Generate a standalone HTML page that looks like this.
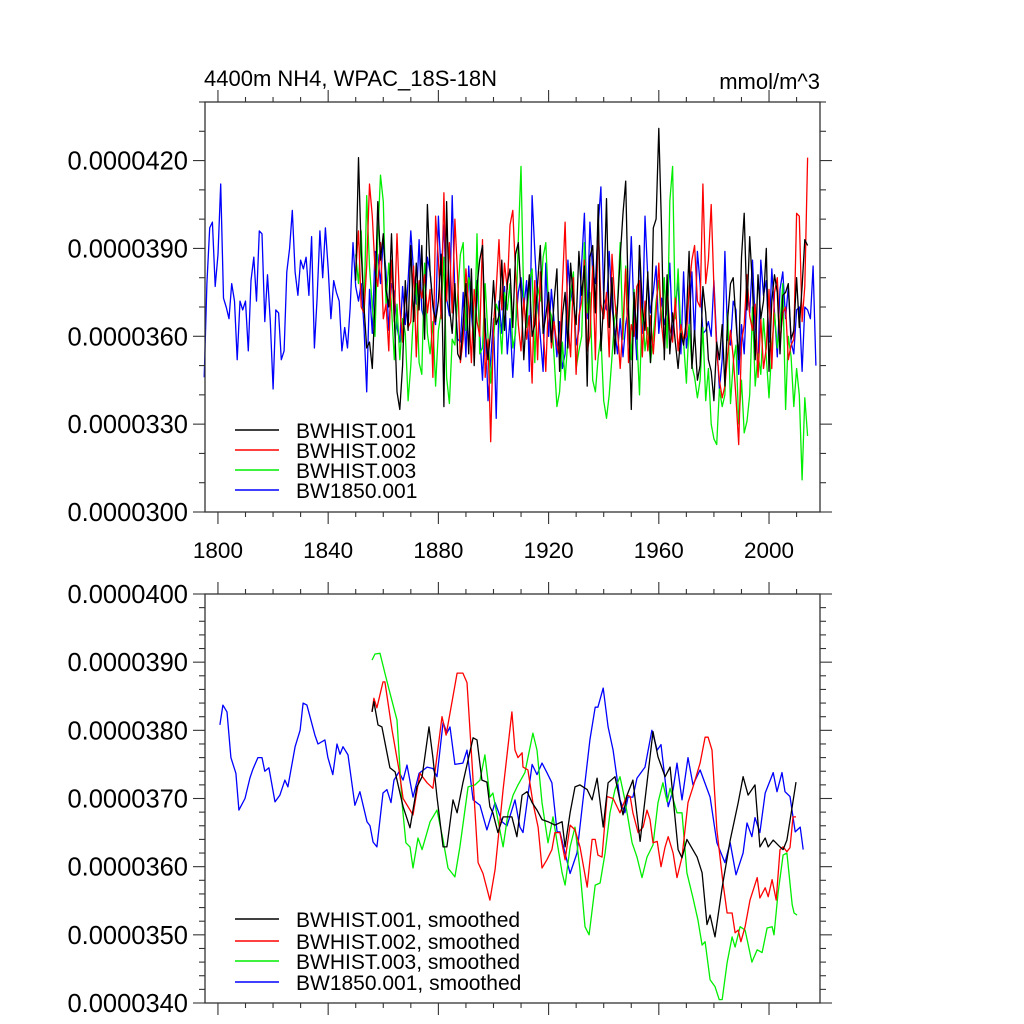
<!DOCTYPE html>
<html><head><meta charset="utf-8"><title>4400m NH4 WPAC</title>
<style>
html,body{margin:0;padding:0;background:#fff;}
svg{display:block;font-family:"Liberation Sans",sans-serif;}
</style></head>
<body>
<svg id="chart" width="1024" height="1024" viewBox="0 0 1024 1024" xmlns="http://www.w3.org/2000/svg">
<rect x="0" y="0" width="1024" height="1024" fill="#fff"/>
<text x="204" y="86" font-size="22">4400m NH4, WPAC_18S-18N</text>
<text x="820" y="89" font-size="22" text-anchor="end">mmol/m^3</text>
<g id="top"></g>
<g id="bot"></g>
</svg>
<script>
// ---------- data (values in units of 1e-6 mmol/m^3) ----------
const blueStart = 1795;
const blueRaw = [34.6,37.8,39.7,39.9,37.7,38.8,41.2,37.3,37.0,36.6,
37.8,37.2,35.2,37.2,36.9,37.2,35.5,37.9,38.7,37.2,
39.6,39.5,36.5,38.1,36.5,34.2,36.9,36.8,35.2,35.5,
38.2,39.0,40.3,38.2,37.4,38.6,38.3,38.7,37.4,39.4,
35.6,37.3,39.6,38.0,39.7,38.3,36.6,37.9,37.5,37.2,
35.5,36.3,35.6,37.0,39.2,37.7,37.2,37.8,36.3,34.1,
37.6,36.1,38.9,38.8,37.8,39.3,38.2,36.2,37.8,37.5,
36.3,35.8,37.7,36.4,37.9,39.6,38.2,37.1,39.3,36.9,
36.5,38.7,38.2,37.0,36.4,40.1,38.1,39.8,37.3,36.7,
40.8,37.4,35.9,35.8,37.5,35.3,38.4,36.8,35.6,37.9,
36.1,34.5,36.6,33.8,35.2,36.6,33.2,37.2,36.1,37.7,
35.4,36.6,34.6,36.3,37.5,38.0,37.0,37.9,34.8,40.8,
38.9,37.2,36.0,34.8,38.5,36.0,37.6,36.5,35.3,36.5,
34.9,35.4,38.6,37.2,37.8,35.7,36.2,38.5,40.2,36.6,
39.9,38.2,37.8,39.8,41.1,37.3,36.9,38.9,37.0,36.2,
35.4,36.6,35.3,36.4,37.0,39.4,36.8,35.2,39.1,36.1,
40.1,38.0,36.8,37.5,38.4,36.1,37.3,36.4,36.9,38.5,
36.0,37.0,37.9,35.4,38.2,35.6,36.4,38.2,35.9,38.9,
37.8,36.1,36.2,36.5,36.0,37.9,35.8,34.2,35.2,38.9,
35.9,35.7,37.2,36.9,34.7,36.4,35.4,37.6,36.8,38.6,
36.5,34.8,38.6,37.4,37.9,35.8,38.3,36.8,35.3,37.6,
38.2,36.6,37.7,35.8,35.4,36.9,37.0,34.8,37.0,36.9,
36.6,38.4,35.0];
const histStart = 1850;
const blackRaw = [37.9,42.1,38.9,37.0,35.6,35.8,34.9,37.2,40.6,38.6,
39.5,37.6,37.0,39.5,36.7,34.1,33.5,35.0,37.9,36.2,
39.1,36.5,38.5,36.9,39.1,35.9,40.5,38.2,37.1,36.5,
37.2,38.8,33.6,40.6,37.0,36.1,37.8,35.4,35.2,36.5,
37.8,35.4,38.3,35.0,37.7,38.6,39.1,36.2,35.2,36.2,
37.9,36.4,36.7,38.6,36.2,37.8,38.3,36.3,38.8,39.2,
37.5,35.2,36.9,38.1,36.0,36.4,37.8,39.1,36.1,36.7,
37.5,35.8,37.2,38.3,34.8,36.7,37.5,35.6,38.5,37.2,
36.4,38.9,37.4,38.4,34.3,38.7,39.1,36.8,40.5,35.5,
37.2,40.7,36.3,38.0,35.4,37.0,38.7,40.2,41.3,36.9,
33.5,37.5,35.9,39.1,37.0,36.2,38.2,35.1,39.7,40.0,
43.1,39.6,35.2,38.1,35.4,36.8,35.8,34.9,36.1,35.7,
36.6,38.9,34.9,36.2,34.5,35.0,37.7,36.8,35.2,34.8,
33.8,35.8,35.2,36.4,34.3,36.6,37.8,38.0,36.5,35.2,
38.7,40.2,36.9,39.4,37.7,35.2,38.1,36.6,37.2,39.0,
34.8,37.2,38.1,37.5,35.4,37.4,37.5,37.8,35.9,36.2,
38.0,36.3,37.7,39.3,39.1];
const redRaw = [38.2,39.6,37.0,36.8,38.4,41.2,40.1,38.3,37.7,39.2,
36.6,37.1,35.5,38.6,36.5,39.5,37.0,35.8,37.7,36.3,
36.5,38.4,35.3,37.9,37.3,38.1,36.8,37.6,34.6,40.1,
38.6,36.6,40.9,37.2,39.2,36.8,40.0,38.0,35.1,35.9,
38.3,37.0,35.1,37.6,36.5,36.0,39.3,34.6,35.9,32.4,
36.4,37.6,39.3,36.9,38.5,37.6,39.8,40.3,38.2,36.4,
35.5,37.3,35.9,36.7,34.4,37.9,35.2,38.2,36.3,34.8,
37.4,35.6,36.5,35.7,35.3,37.7,39.9,36.5,35.3,38.0,
34.7,36.7,37.2,38.6,35.5,36.0,38.4,35.2,39.8,37.1,
36.6,37.5,35.3,38.8,37.3,36.2,34.9,36.4,38.3,35.1,
36.4,36.0,37.7,37.9,35.3,37.2,35.5,36.7,35.4,36.8,
38.5,36.4,35.5,37.6,36.3,35.8,37.3,35.5,36.4,35.9,
36.0,37.6,38.6,39.1,37.2,37.0,41.2,37.8,38.6,40.5,
37.7,35.5,34.5,33.9,34.3,35.4,36.2,35.3,33.9,32.3,
35.8,36.4,38.1,36.7,36.2,37.1,34.6,36.6,34.9,35.6,
37.6,34.9,37.5,38.0,35.8,36.8,37.0,35.2,35.7,35.9,
40.2,40.1,36.5,37.7,42.1];
const greenRaw = [38.8,37.8,39.6,36.8,40.8,38.4,37.0,36.0,39.4,41.5,
40.6,37.1,38.5,37.0,35.2,37.1,35.2,36.6,36.1,33.8,
35.0,36.9,37.8,35.1,34.7,38.5,36.1,35.4,36.5,34.3,
36.2,36.8,38.7,34.6,33.7,35.9,35.7,37.4,38.8,39.2,
36.2,38.0,37.6,35.5,39.5,35.4,35.6,37.8,36.0,34.4,
35.9,37.1,36.8,35.4,37.5,36.9,37.8,35.6,36.1,39.3,
41.8,37.1,36.3,37.9,38.3,35.1,37.7,37.2,38.7,39.2,
37.0,36.7,35.3,33.6,34.1,35.8,34.5,35.9,37.4,38.2,
34.9,35.5,36.0,39.2,36.8,37.5,34.5,34.1,35.3,36.0,
33.8,33.2,34.0,35.3,36.6,37.1,39.2,35.9,38.4,37.0,
35.2,37.6,36.0,34.0,37.1,35.5,36.3,35.1,36.0,37.2,
37.9,36.3,38.0,35.6,40.6,41.8,36.6,38.3,36.1,35.8,
34.4,36.4,35.0,34.6,33.9,34.5,36.3,33.8,34.9,33.0,
32.5,32.3,34.2,33.6,34.0,36.8,33.7,35.1,35.7,33.0,
34.5,32.7,33.1,34.0,37.0,34.3,35.4,34.7,36.6,35.3,
33.9,35.6,36.8,35.6,36.4,37.8,33.5,36.0,35.3,33.6,
34.9,34.0,31.1,33.9,32.6];

// smoothed series: years and values
const blueSmYears = [1800.7,1801.8,1803.3,1804.7,1806.5,1807.6,1809.8,1811.6,1812.7,1814.5,1816,1817,1818.5,1820.7,1822.5,1824.3,1825.4,1828,1829.8,1830.9,1832.3,1835.2,1836.3,1838.8,1839.9,1841.7,1843.2,1844.3,1845.4,1847.2,1849.7,1851.5,1854.1,1855.2,1856.3,1857.7,1859.9,1861.3,1862.8,1863.9,1865.7,1867.2,1868.6,1870.8,1873,1875.9,1878,1879.5,1881.7,1883.1,1884.2,1886,1888.9,1890.4,1892.6,1895.1,1897.6,1900.6,1903.1,1904.9,1907.8,1909.6,1910.7,1914,1915.8,1917.6,1919.4,1921.2,1923.1,1924.1,1927.8,1930.3,1932.5,1935,1936.9,1937.9,1939.8,1941.6,1943.4,1945.9,1947.7,1948.8,1950.6,1952.1,1955,1957.5,1959.4,1960.8,1962.3,1963.4,1965.2,1966.6,1968.4,1970.6,1972.4,1975,1978.6,1981.1,1984,1985.9,1988,1990.6,1992,1993.8,1994.9,1996.7,1998.6,2001.5,2002.9,2004.7,2005.8,2007.6,2009.5,2011.3,2012.4];
const blueSmVals = [38.08,38.37,38.27,37.6,37.37,36.83,37.0,37.3,37.43,37.6,37.6,37.4,37.45,36.95,37.05,37.27,37.17,37.76,38.0,38.4,38.37,37.93,37.8,37.86,37.6,37.35,37.8,37.65,37.76,37.64,36.9,37.1,36.66,36.6,36.36,36.29,37.08,37.13,36.94,37.27,37.39,37.27,37.49,37.02,37.37,37.46,37.44,37.32,38.12,37.96,38.05,37.5,37.52,37.71,36.98,36.9,36.54,36.94,36.66,36.6,36.98,36.58,36.5,37.5,37.35,37.52,37.38,37.23,36.51,36.51,35.9,36.2,36.98,37.86,38.34,38.34,38.62,38.05,37.71,36.98,36.79,37.02,37.02,37.3,37.46,38.0,37.71,37.79,37.27,36.88,37.13,37.52,36.98,37.6,37.2,37.42,37.02,36.35,36.06,36.35,35.88,36.2,36.64,36.44,36.72,36.5,37.08,37.38,37.1,37.38,37.1,37.03,36.51,36.58,36.25];
const redSmYears = [1855.9,1856.6,1857.7,1859.9,1860.6,1863.2,1865.7,1867.2,1870.8,1873.3,1875.9,1878,1881.3,1882.8,1886.8,1888.9,1890.4,1892.2,1894.4,1896.2,1898.7,1900.6,1903.5,1906.7,1907.8,1908.9,1910.4,1910.7,1912.5,1914.3,1916.2,1917.6,1919.4,1921.2,1922.3,1924.1,1926,1927.8,1929.6,1931.4,1934,1935.8,1936.9,1937.9,1939.4,1941.2,1943.4,1945.9,1948.5,1949.6,1950.6,1952.5,1954.3,1955.7,1956.8,1957.9,1959.4,1960.8,1962.3,1963.4,1965.2,1966.6,1968.4,1970.6,1972.4,1975,1976.8,1977.9,1979.3,1981.1,1983.3,1984.8,1986.6,1987.7,1988.8,1989.8,1991.3,1993.1,1995.7,1996.7,1998.6,1999.7,2001.1,2002.6,2004,2005.1,2006.5,2007.6,2008.7,2009.8];
const redSmVals = [38.27,38.47,38.33,38.71,38.71,38.0,37.42,37.0,36.76,37.37,37.23,37.15,38.2,37.93,38.84,38.84,38.7,37.53,36.06,35.9,35.51,35.96,37.13,38.27,37.71,37.6,37.67,37.46,37.42,36.94,36.58,35.98,36.1,36.25,36.5,36.5,36.1,36.61,36.54,36.29,35.7,36.4,36.4,36.17,36.14,37.03,37.0,36.79,37.05,37.03,36.79,36.5,36.58,36.83,36.69,36.35,36.37,36.0,36.29,36.44,36.2,35.84,36.14,36.94,37.17,37.52,37.9,37.9,37.71,36.54,35.76,35.32,35.32,35.03,35.07,34.9,35.12,35.51,35.84,35.54,35.69,35.56,35.81,35.51,36.25,36.29,36.22,36.28,36.73,36.73];
const blackSmYears = [1855.9,1856.6,1858.1,1859.5,1862.4,1864.3,1867.2,1869.7,1872.2,1874.1,1876.6,1878,1879.5,1881.7,1883.1,1885.3,1886.8,1888.9,1892.6,1894,1895.8,1897.6,1898.7,1899.8,1901.6,1903.5,1906.7,1907.1,1908.5,1910.4,1912.2,1914,1915.8,1917.6,1919.8,1922.3,1924.9,1926,1927.8,1929.6,1931.4,1934,1935.8,1937.6,1939.8,1941.6,1944.1,1947,1948.5,1950.6,1953.2,1955.7,1957.9,1959.7,1962.3,1964.1,1967,1968.4,1970.2,1973.9,1975.7,1977.5,1978.6,1980.4,1983,1985.9,1988.8,1990.6,1992.4,1994.9,1996.7,1998.6,1999.7,2001.5,2004,2005.1,2006.5,2008.4,2009.8];
const blackSmVals = [38.27,38.42,38.08,38.05,37.45,37.39,36.88,36.57,37.17,37.32,38.05,37.6,37.02,36.29,36.29,36.98,36.79,37.23,37.89,37.86,37.27,37.24,36.88,36.79,36.5,36.73,36.73,36.66,36.44,37.05,37.1,36.94,36.83,36.69,36.66,36.61,36.66,36.29,36.79,37.17,37.2,37.13,36.98,37.3,36.58,37.23,37.32,36.76,37.05,37.27,36.37,37.23,37.98,37.61,37.32,37.46,36.25,36.13,36.4,36.14,35.91,35.15,35.29,34.97,35.7,36.39,36.94,37.32,37.05,37.2,36.29,36.42,36.29,36.39,36.29,36.25,36.39,36.88,37.24];
const greenSmYears = [1855.9,1857,1858.8,1860.6,1862.4,1865,1866.8,1868.2,1869.7,1870.8,1872.6,1874.1,1877,1879.5,1881.7,1883.5,1886,1887.8,1890.8,1893.3,1895.1,1896.9,1898.7,1899.8,1901.6,1903.5,1905.3,1907.1,1908.9,1911.4,1914.3,1915.8,1917.6,1919.8,1921.6,1924.9,1926,1927.8,1929.6,1931.4,1933.2,1934.7,1936.9,1938.7,1940.5,1942.3,1944.1,1945.9,1947.7,1950.3,1952.1,1953.9,1955.7,1957.9,1959.7,1961.5,1963,1964.1,1966.6,1968.4,1970.2,1972.4,1974.2,1975.7,1976.8,1978.6,1980.4,1981.9,1983,1984.8,1986.6,1987.7,1989.5,1991.3,1993.8,1995.7,1997.5,1999.3,2001.1,2001.8,2003.3,2005.1,2006.5,2008.4,2009.1,2010.2];
const greenSmVals = [39.03,39.12,39.13,38.84,38.55,38.15,36.94,36.35,36.29,35.98,36.42,36.25,36.66,36.83,36.39,35.98,35.85,36.29,37.17,37.2,37.27,37.64,37.02,37.08,36.69,36.29,36.79,37.05,37.2,37.38,37.96,37.71,36.94,36.35,36.73,35.91,35.73,36.29,36.58,35.95,35.12,35.0,35.73,35.76,36.2,36.79,37.13,37.32,36.98,36.35,36.14,35.84,36.14,36.32,36.94,37.23,36.95,37.15,36.79,36.79,35.91,35.54,35.22,34.85,34.9,34.34,34.24,34.05,34.05,34.59,34.97,34.82,35.12,35.07,34.6,34.78,34.74,35.1,35.12,35.0,35.62,36.17,36.2,35.44,35.32,35.29];

const xTickYears = [1800,1840,1880,1920,1960,2000];
const xTickLabels = ["1800","1840","1880","1920","1960","2000"];
const topYTicks = [30,33,36,39,42];
const topYLabels = ["0.0000300","0.0000330","0.0000360","0.0000390","0.0000420"];
const botYTicks = [34,35,36,37,38,39,40];
const botYLabels = ["0.0000340","0.0000350","0.0000360","0.0000370","0.0000380","0.0000390","0.0000400"];
const topLegend = ["BWHIST.001","BWHIST.002","BWHIST.003","BW1850.001"];
const botLegend = ["BWHIST.001, smoothed","BWHIST.002, smoothed","BWHIST.003, smoothed","BW1850.001, smoothed"];

// ---------- layout ----------
const NS = "http://www.w3.org/2000/svg";
const L = 205, R = 820;
const xMin = 1795.3, xMax = 2018.5;
const xs = y => L + (y - xMin) / (xMax - xMin) * (R - L);
const topP = {top:102, bottom:512, ymin:30, ymax:44, minor:1};
const botP = {top:594, bottom:1003, ymin:34, ymax:40, minor:0.2};
function ys(p, v){ return p.bottom - (v - p.ymin)/(p.ymax - p.ymin)*(p.bottom - p.top); }
function mk(tag, attrs, parent){
  const e = document.createElementNS(NS, tag);
  for (const k in attrs) e.setAttribute(k, attrs[k]);
  parent.appendChild(e); return e;
}
const colors = ["#000000","#ff0000","#00ee00","#0000ff"];

function drawPanel(g, p, yt, yl, legend, legendY, legendFont, series){
  series.forEach((s, i) => {
    let d = "";
    s.years.forEach((yr, j) => { d += (j ? "L" : "M") + xs(yr).toFixed(1) + " " + ys(p, s.vals[j]).toFixed(1); });
    const path = mk("path", {d:d, fill:"none", stroke:s.color, "stroke-width":1.3, "stroke-linejoin":"round"}, g);
    
    
  });
  const box = mk("rect", {x:L, y:p.top, width:R-L, height:p.bottom-p.top, fill:"none", stroke:"#333", "stroke-width":1.3}, g);
  
  
  for (let v = p.ymin; v <= p.ymax + 1e-9; v += p.minor){
    const y = ys(p, v);
    const major = yt.some(t => Math.abs(t - v) < 1e-6);
    const len = major ? 12 : 6;
    mk("line", {x1:L-len, y1:y, x2:L, y2:y, stroke:"#333", "stroke-width":1.1}, g);
    mk("line", {x1:R, y1:y, x2:R+len, y2:y, stroke:"#333", "stroke-width":1.1}, g);
  }
  yt.forEach((v, i) => {
    const t = mk("text", {x:188, y:ys(p, v)+9, "font-size":25.5, "text-anchor":"end"}, g);
    t.textContent = yl[i];
    
    
  });
  for (let yr = 1800; yr <= 2010; yr += 10){
    const x = xs(yr);
    const major = xTickYears.includes(yr);
    const len = major ? 12 : 5;
    mk("line", {x1:x, y1:p.bottom, x2:x, y2:p.bottom+len, stroke:"#333", "stroke-width":1.1}, g);
    mk("line", {x1:x, y1:p.top-len, x2:x, y2:p.top, stroke:"#333", "stroke-width":1.1}, g);
  }
  legend.forEach((name, i) => {
    const y = legendY[i];
    const ln = mk("line", {x1:235, y1:y, x2:279, y2:y, stroke:colors[i], "stroke-width":1.5}, g);
    
    
    const t = mk("text", {x:296, y:y+8, "font-size":legendFont}, g);
    t.textContent = name;
    
    
  });
}
function yearsFrom(start, n){ const a=[]; for(let i=0;i<n;i++) a.push(start+i); return a; }

const topG = document.getElementById("top");
drawPanel(topG, topP, topYTicks, topYLabels, topLegend, [430,450,470,490], 21, [
  {name:"bw1850-001-line", color:colors[3], years:yearsFrom(blueStart, blueRaw.length), vals:blueRaw},
  {name:"bwhist-003-line", color:colors[2], years:yearsFrom(histStart, greenRaw.length), vals:greenRaw},
  {name:"bwhist-002-line", color:colors[1], years:yearsFrom(histStart, redRaw.length), vals:redRaw},
  {name:"bwhist-001-line", color:colors[0], years:yearsFrom(histStart, blackRaw.length), vals:blackRaw}
]);
xTickYears.forEach((yr, i) => {
  const t = mk("text", {x:xs(yr), y:558, "font-size":22.5, "text-anchor":"middle"}, topG);
  t.textContent = xTickLabels[i];
  
  
});
const botG = document.getElementById("bot");
drawPanel(botG, botP, botYTicks, botYLabels, botLegend, [919,941,961,982], 21, [
  {name:"bw1850-001-smoothed-line", color:colors[3], years:blueSmYears, vals:blueSmVals},
  {name:"bwhist-003-smoothed-line", color:colors[2], years:greenSmYears, vals:greenSmVals},
  {name:"bwhist-002-smoothed-line", color:colors[1], years:redSmYears, vals:redSmVals},
  {name:"bwhist-001-smoothed-line", color:colors[0], years:blackSmYears, vals:blackSmVals}
]);
</script>
</body></html>
